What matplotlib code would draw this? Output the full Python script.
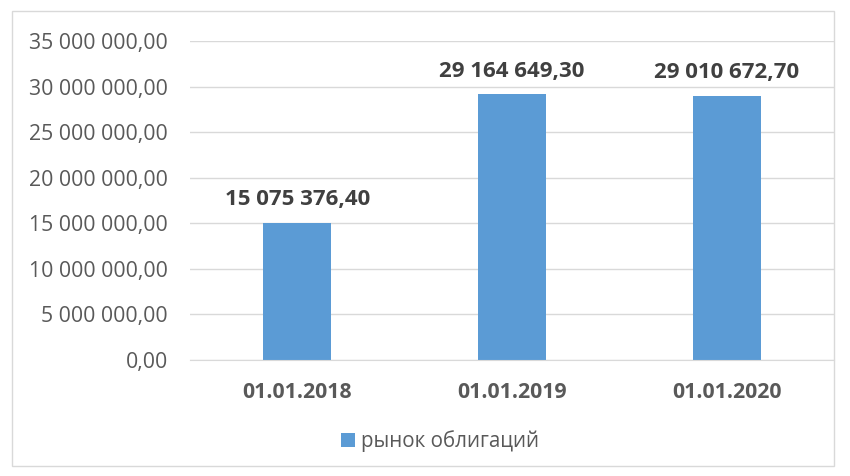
import matplotlib.pyplot as plt
from matplotlib.patches import Rectangle

categories = ['01.01.2018', '01.01.2019', '01.01.2020']
values = [15075376.40, 29164649.30, 29010672.70]
yticks = [0, 5e6, 10e6, 15e6, 20e6, 25e6, 30e6, 35e6]
series_name = 'рынок облигаций'

plt.rcParams['font.family'] = ['Open Sans', 'DejaVu Sans']

def fmt(v):
    s = '{:,.2f}'.format(v)
    return s.replace(',', ' ').replace('.', ',')

fig = plt.figure(figsize=(8.5, 4.76), dpi=100)
ax = fig.add_axes([190/850, 1-360/476, 644/850, 319/476])

x = range(len(categories))
bars = ax.bar(x, values, width=0.316, color='#5B9BD5', zorder=3, label=series_name)
for i, v in enumerate(values):
    ax.annotate(fmt(v), (i, v), xytext=(0, 9), textcoords='offset points',
                ha='center', va='bottom', fontsize=16,
                fontweight='bold', color='#404040')

ax.set_xlim(-0.5, len(categories) - 0.5)
ax.set_ylim(0, 35e6)
ax.set_yticks(yticks)
ax.set_yticklabels([fmt(t) for t in yticks], fontsize=15.3, color='#595959')
ax.set_xticks(list(x))
ax.set_xticklabels(categories, fontsize=15.3, fontweight='bold', color='#595959')
ax.tick_params(length=0)
ax.tick_params(axis='y', pad=16)
ax.tick_params(axis='x', pad=16)
ax.grid(axis='y', color='#D9D9D9', linewidth=1, zorder=0)
for s in ['top', 'right', 'left']:
    ax.spines[s].set_visible(False)
ax.spines['bottom'].set_color('#D9D9D9')
ax.spines['bottom'].set_zorder(4)

fig.legend(handles=[bars], labels=[series_name], loc='center', bbox_to_anchor=(440/850, 1-441/476),
           frameon=False, fontsize=14.8, handlelength=0.7, handleheight=0.7,
           handletextpad=0.3, labelcolor='#595959')

fig.patches.append(Rectangle((12/850, 1-466/476), 822/850, 455/476, transform=fig.transFigure,
                             fill=False, edgecolor='#D9D9D9', linewidth=1))

fig.savefig('out.png', dpi=100, facecolor='white')
